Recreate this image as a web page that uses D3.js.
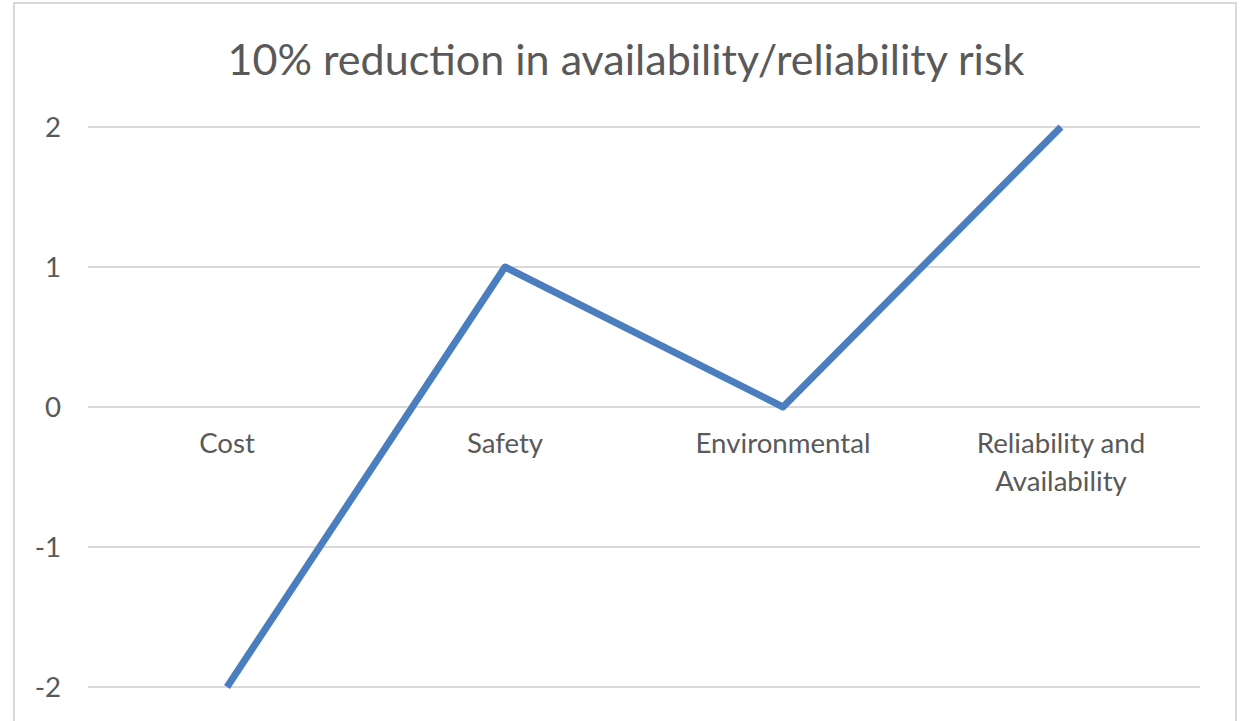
<!DOCTYPE html>
<html>
<head>
<meta charset="utf-8">
<script src="https://cdn.jsdelivr.net/npm/d3@7"></script>
<style>
html,body{margin:0;padding:0;background:#fff;}
svg{display:block;}
text{font-family:Lato,"Open Sans",sans-serif;fill:#595959;}
</style>
</head>
<body>
<svg id="chart" width="1241" height="721"></svg>
<script>
const title = "10% reduction in availability/reliability risk";
const categories = ["Cost", "Safety", "Environmental", "Reliability and Availability"];
const values = [-2, 1, 0, 2];
const yTicks = [-2, -1, 0, 1, 2];

const W = 1241, H = 721;
const svg = d3.select("#chart");

// chart border
svg.append("rect").attr("x", 14).attr("y", 3).attr("width", 1222).attr("height", 740)
  .attr("fill", "#fff").attr("stroke", "#d9d9d9").attr("stroke-width", 2);

const x = d3.scaleBand().domain(categories).range([88, 1200]).padding(0);
const y = d3.scaleLinear().domain([-2, 2]).range([687, 127]);

// gridlines
svg.append("g").selectAll("line").data(yTicks).join("line")
  .attr("x1", 88).attr("x2", 1200)
  .attr("y1", d => y(d)).attr("y2", d => y(d))
  .attr("stroke", "#d9d9d9").attr("stroke-width", 2);

// y axis labels
const yAxis = d3.axisLeft(y).tickValues(yTicks).tickSize(0).tickPadding(0).tickFormat(d => String(d));
const yg = svg.append("g").attr("transform", "translate(61,0)").call(yAxis);
yg.select(".domain").remove();
yg.selectAll("text").attr("font-size", 24).attr("fill", "#595959")
  .style("font-family", "Lato, 'Open Sans', sans-serif").attr("dy", "0.33em");

// title
const t = svg.append("text").attr("x", 626).attr("y", 75).attr("text-anchor", "middle")
  .attr("font-size", 36).text(title);
const tw = t.node().getComputedTextLength();
t.attr("font-size", 36 * 797 / tw);

// category labels
function wrapLabel(s) {
  return s === "Reliability and Availability" ? ["Reliability and", "Availability"] : [s];
}
const cg = svg.append("g");
const labels = cg.selectAll("text").data(categories).join("text")
  .attr("x", d => x(d) + x.bandwidth() / 2)
  .attr("y", y(0) + 46)
  .attr("text-anchor", "middle")
  .attr("font-size", 24);
labels.each(function(d) {
  const el = d3.select(this);
  wrapLabel(d).forEach((line, i) => {
    el.append("tspan").attr("x", x(d) + x.bandwidth() / 2).attr("dy", i === 0 ? 0 : 38).text(line);
  });
});
// scale fonts to match Calibri widths
const envNode = labels.filter(d => d === "Environmental").node();
const ew = envNode.getComputedTextLength();
const fs = 24 * 175 / ew;
labels.attr("font-size", fs);
yg.selectAll("text").attr("font-size", fs);

// line
const line = d3.line().x((d, i) => x(categories[i]) + x.bandwidth() / 2).y(d => y(d));
svg.append("path").datum(values).attr("d", line)
  .attr("fill", "none").attr("stroke", "#4a7ebf").attr("stroke-width", 7)
  .attr("stroke-linejoin", "round").attr("stroke-linecap", "butt");
</script>
</body>
</html>
